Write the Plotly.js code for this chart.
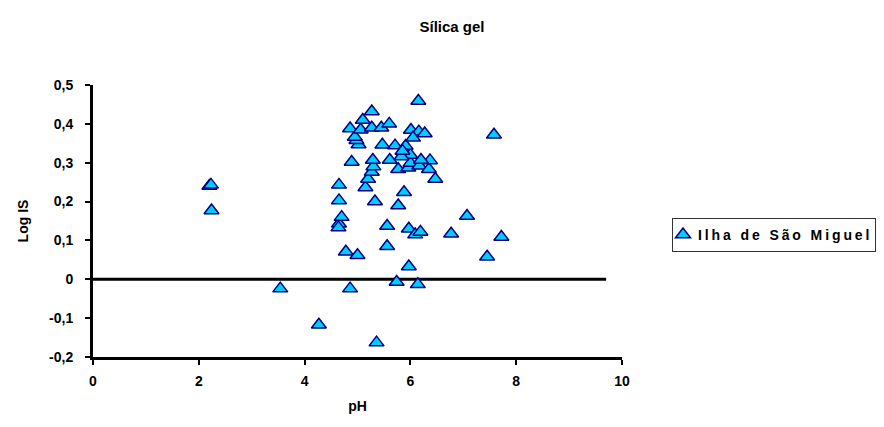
<!DOCTYPE html>
<html>
<head>
<meta charset="utf-8">
<script src="https://cdn.plot.ly/plotly-3.0.1.min.js"></script>
<style>
body{margin:0;background:#fff;}
#chart{width:884px;height:427px;}
.legendtext{letter-spacing:1.9px;}
</style>
</head>
<body>
<div id="chart"></div>
<script>
const seriesName = "Ilha de São Miguel";
const pH = [2.20, 2.23, 2.24, 3.54, 4.27, 5.36, 4.86, 5.74, 6.14, 5.97, 7.45, 7.72, 6.77, 7.07, 7.58, 6.15,
  4.78, 5.00, 5.56, 5.56, 5.97, 6.09, 6.19, 4.65, 4.64, 4.70, 4.65, 4.65, 5.33, 5.77, 5.88, 5.15, 5.20,
  5.27, 5.30, 4.89, 5.29, 5.61, 5.77, 5.96, 6.00, 6.17, 6.35, 6.37, 6.20, 6.00, 5.83, 6.47, 5.71, 5.91,
  5.47, 5.02, 4.98, 4.95, 4.86, 5.06, 5.10, 5.27, 5.27, 5.45, 5.60, 6.01, 6.16, 6.27, 6.05, 5.85];
const logIS = [0.240, 0.243, 0.177, -0.024, -0.117, -0.163, -0.024, -0.007, -0.013, 0.033, 0.058, 0.109, 0.117, 0.163, 0.372, 0.459,
  0.071, 0.062, 0.085, 0.137, 0.130, 0.115, 0.122, 0.143, 0.133, 0.160, 0.203, 0.243, 0.200, 0.190, 0.224, 0.236, 0.258,
  0.276, 0.290, 0.302, 0.307, 0.307, 0.283, 0.287, 0.299, 0.292, 0.283, 0.306, 0.307, 0.320, 0.316, 0.258, 0.344, 0.343,
  0.346, 0.347, 0.358, 0.366, 0.388, 0.385, 0.410, 0.432, 0.390, 0.390, 0.400, 0.384, 0.380, 0.375, 0.364, 0.330];
const refLineX = [0, 9.7];
const refLineY = [0, 0];
const xTicks = [0, 2, 4, 6, 8, 10];
const xTickText = ["0", "2", "4", "6", "8", "10"];
const yTicks = [-0.2, -0.1, 0, 0.1, 0.2, 0.3, 0.4, 0.5];
const yTickText = ["-0,2", "-0,1", "0", "0,1", "0,2", "0,3", "0,4", "0,5"];

const font = "Liberation Sans, Arial, sans-serif";
const bold = a => a.map(t => '<b>' + t + '</b>');

const traces = [
  {x: refLineX, y: refLineY, mode: 'lines', line: {color: '#000', width: 3}, showlegend: false, hoverinfo: 'skip'},
  {x: pH, y: logIS, mode: 'markers', name: '<b>' + seriesName + '</b>', type: 'scatter',
   marker: {symbol: 'triangle-up', size: 13, color: '#00CCFF', line: {color: '#000080', width: 1.5}}}
];

const layout = {
  width: 884, height: 427,
  paper_bgcolor: '#fff', plot_bgcolor: '#fff',
  margin: {l: 93, r: 262, t: 85, b: 70},
  font: {family: font, color: '#000', size: 12},
  title: {text: '<b>Sílica gel</b>', font: {family: font, size: 15, color: '#000'}, x: 452/884, xanchor: 'center', y: 1 - 27/427, yanchor: 'middle'},
  xaxis: {
    range: [0, 10], tickvals: xTicks, ticktext: bold(xTickText), showgrid: false, zeroline: false, automargin: false,
    showline: true, linecolor: '#000', linewidth: 3, ticks: 'outside', ticklen: 5, tickwidth: 2, tickcolor: '#000',
    tickfont: {family: font, size: 14, color: '#000'}, ticklabelstandoff: 4,
    title: {text: '<b>pH</b>', font: {family: font, size: 14, color: '#000'}, standoff: 14}
  },
  yaxis: {
    range: [-0.2, 0.5], tickvals: yTicks, ticktext: bold(yTickText), showgrid: false, zeroline: false, automargin: false,
    showline: true, linecolor: '#000', linewidth: 3, ticks: 'outside', ticklen: 5, tickwidth: 2, tickcolor: '#000',
    tickfont: {family: font, size: 14, color: '#000'}, ticklabelstandoff: 9,
    title: {text: '<b>Log IS</b>', font: {family: font, size: 14, color: '#000'}, standoff: 18}
  },
  legend: {
    xref: 'container', yref: 'container',
    x: 672/884, xanchor: 'left', y: 1 - 235/427, yanchor: 'middle',
    bordercolor: '#333', borderwidth: 1, bgcolor: '#fff',
    font: {family: font, size: 14, color: '#000'},
    itemwidth: 30, tracegroupgap: 0
  },
  showlegend: true
};

Plotly.newPlot('chart', traces, layout, {displayModeBar: false, staticPlot: true}).then(gd => {
  gd.querySelectorAll('.legend .legendpoints').forEach(g => {
    g.setAttribute('transform', 'translate(-10,0)');
  });
  gd.querySelectorAll('.legend .scatterpts path').forEach(p => {
    p.setAttribute('transform', (p.getAttribute('transform') || '') + ' scale(0.75)');
  });
  gd.querySelectorAll('.legend .legendtext').forEach(t => {
    const x = parseFloat(t.getAttribute('x') || '0');
    t.setAttribute('x', x - 15);
    t.style.letterSpacing = '2.9px';
  });
});
</script>
</body>
</html>
